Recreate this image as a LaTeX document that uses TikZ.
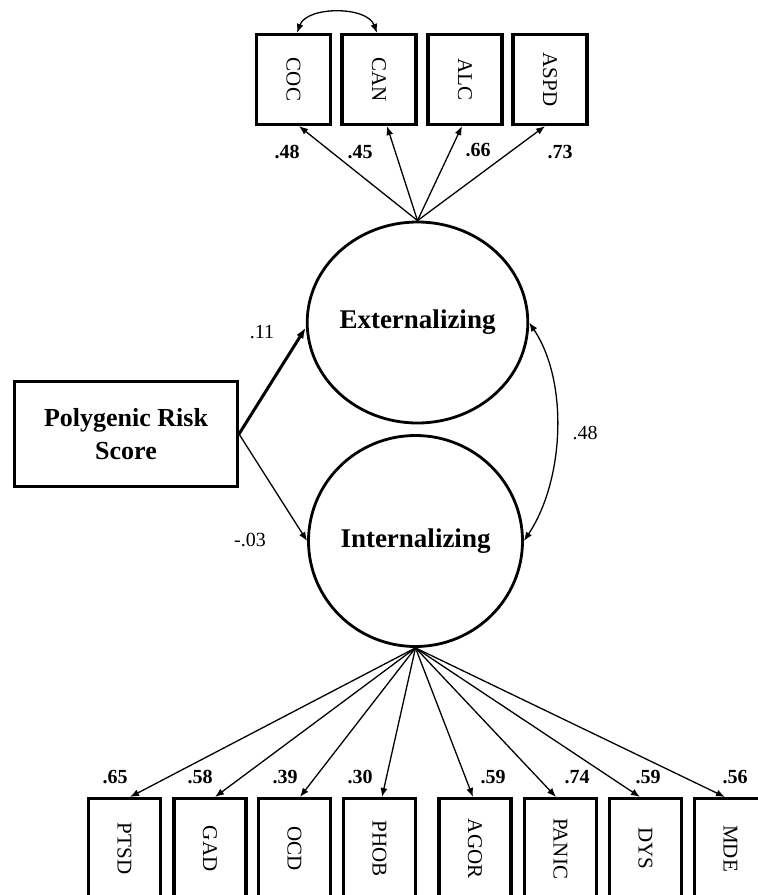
\documentclass[tikz,border=0pt]{standalone}
\usepackage{fontspec}
\setmainfont{Liberation Serif}
\usetikzlibrary{arrows.meta,shapes.geometric,calc}
\newcommand\vtext[1]{\rotatebox{-90}{#1}}
\tikzset{
  obsbox/.style={draw, line width=3.2pt, inner sep=0pt, font=\fontsize{21}{24}\selectfont},
  topbox/.style={obsbox, minimum width=74pt, minimum height=90pt},
  botbox/.style={obsbox, minimum width=72pt, minimum height=100pt},
  latent/.style={ellipse, draw, line width=2.8pt, inner sep=0pt, font=\fontsize{27}{32}\selectfont\bfseries},
  tip/.style={Latex[length=9pt,width=7pt]},
  load/.style={-{Latex[length=9pt,width=7pt]}, line width=1.3pt},
  corr/.style={{Latex[length=9pt,width=7pt]}-{Latex[length=9pt,width=7pt]}, line width=1.3pt},
  numb/.style={font=\fontsize{20}{24}\selectfont\bfseries, inner sep=0pt},
  numr/.style={font=\fontsize{20}{24}\selectfont, inner sep=0pt}
}
\begin{document}
\begin{tikzpicture}[x=1pt,y=-1pt]
\useasboundingbox (0,0) rectangle (758,895);
\clip (0,0) rectangle (758,895);
\fill[white] (0,0) rectangle (758,895);

% top indicators
\node[topbox] (coc)  at (293.5,79.5) {\vtext{COC}};
\node[topbox] (can)  at (379,79.5)   {\vtext{CAN}};
\node[topbox] (alc)  at (465,79.5)   {\vtext{ALC}};
\node[topbox] (aspd) at (550,79.5)   {\vtext{ASPD}};

% latent factors
\node[latent, minimum width=210pt, minimum height=201pt] (ext) at (417.5,322.5) {Externalizing};
\node[latent, minimum width=214pt, minimum height=211pt] (int) at (415.5,541) {Internalizing};

% predictor
\node[draw, line width=3pt, minimum width=223pt, minimum height=105pt, align=center,
      font=\fontsize{26}{33}\selectfont\bfseries] (prs) at (126,434) {Polygenic Risk\\Score};

% bottom indicators
\node[botbox] (ptsd)  at (124.5,848.6) {\vtext{PTSD}};
\node[botbox] (gad)   at (210,848.6)   {\vtext{GAD}};
\node[botbox] (ocd)   at (294.5,848.6) {\vtext{OCD}};
\node[botbox] (phob)  at (379.5,848.6) {\vtext{PHOB}};
\node[botbox] (agor)  at (475,848.6)   {\vtext{AGOR}};
\node[botbox] (panic) at (560.5,848.6) {\vtext{PANIC}};
\node[botbox] (dys)   at (645.5,848.6) {\vtext{DYS}};
\node[botbox] (mde)   at (730.5,848.6) {\vtext{MDE}};

% top loadings
\draw[load] (ext.north) -- ([xshift=5.5pt]coc.south);
\draw[load] (ext.north) -- ([xshift=8pt]can.south);
\draw[load] (ext.north) -- ([xshift=-3pt]alc.south);
\draw[load] (ext.north) -- ([xshift=-5pt]aspd.south);

% COC-CAN correlation
\draw[corr] ([xshift=3.5pt]coc.north) .. controls +(10,-27) and +(-10,-27) .. ([xshift=-2pt]can.north);

% bottom loadings
\draw[load] (int.south) -- ([xshift=5.5pt]ptsd.north);
\draw[load] (int.south) -- ([xshift=5pt]gad.north);
\draw[load] (int.south) -- ([xshift=5.5pt]ocd.north);
\draw[load] (int.south) -- ([xshift=2.5pt]phob.north);
\draw[load] (int.south) -- ([xshift=-2pt]agor.north);
\draw[load] (int.south) -- ([xshift=-4.5pt]panic.north);
\draw[load] (int.south) -- ([xshift=-5.5pt]dys.north);
\draw[load] (int.south) -- ([xshift=-5.5pt]mde.north);

% structural paths
\draw[line width=3pt, -{Latex[length=11pt,width=8pt]}] (prs.east) -- ([yshift=-5pt]ext.west);
\draw[load] (prs.east) -- (int.west);

% factor correlation
\draw[corr] (ext.east) .. controls +(40,60) and +(40,-60) .. (int.east);

% labels
\node[numb] (t1) at (287,152) {.48};
\node[numb] (t2) at (360,152) {.45};
\node[numb] (t3) at (478,150) {.66};
\node[numb] (t4) at (560,152) {.73};

\node[numb] (b1) at (115,777) {.65};
\node[numb] (b2) at (200,777) {.58};
\node[numb] (b3) at (285,777) {.39};
\node[numb] (b4) at (360,777) {.30};
\node[numb] (b5) at (493,777) {.59};
\node[numb] (b6) at (577,777) {.74};
\node[numb] (b7) at (648,777) {.59};
\node[numb] (b8) at (735,777) {.56};

\node[numr] (s1) at (262,332) {.11};
\node[numr] (s2) at (250,540) {-.03};
\node[numr] (s3) at (585,433) {.48};
\end{tikzpicture}
\end{document}
